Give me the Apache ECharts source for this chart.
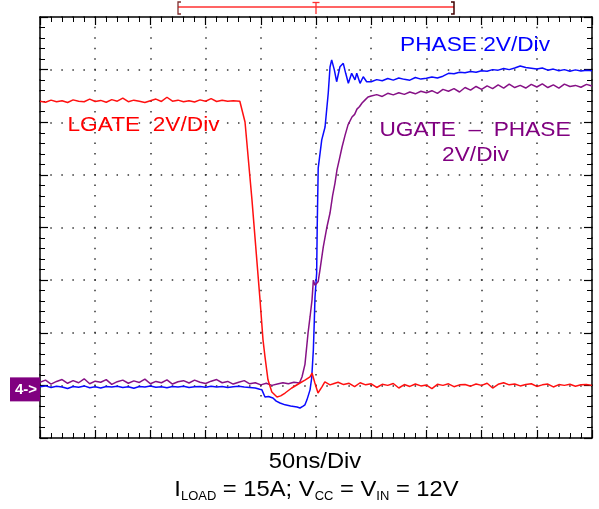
<!DOCTYPE html>
<html><head><meta charset="utf-8">
<script src="https://cdn.jsdelivr.net/npm/echarts@6/dist/echarts.min.js"></script>
<style>html,body{margin:0;padding:0;background:#fff}#c{width:599px;height:509px}</style>
</head><body><div id="c"></div>
<script>
// time in ns (50 ns/div), voltage in V (2 V/div), ground at 0 V
const timeRange = [0, 500];
const voltRange = [-2, 14];

const lgate = [
[0,10.80],[5,10.76],[10,10.84],[15,10.78],[20,10.82],[25,10.75],[30,10.85],[35,10.80],[40,10.78],[45,10.88],
[50,10.79],[55,10.83],[60,10.76],[65,10.86],[70,10.80],[75,10.92],[80,10.78],[85,10.84],[90,10.80],[95,10.75],
[100,10.82],[105,10.88],[110,10.79],[115,10.95],[120,10.80],[125,10.84],[130,10.78],[135,10.82],[140,10.77],[145,10.85],
[150,10.80],[155,10.90],[160,10.79],[165,10.84],[170,10.80],[175,10.82],[181,10.80],[182.7,10.85],[185.7,10.01],[192,7.05],
[199.3,3.25],[202,1.73],[203.8,1.08],[206.5,0.21],[210,-0.25],[214.7,-0.44],[218,-0.40],[222,-0.29],[228,-0.10],[235.5,0.09],
[240,0.20],[244.6,0.32],[246.4,0.47],[249,0.09],[251.8,-0.29],[255.4,-0.06],[258,0.13],[262.7,0.02],
[265,0.05],[270,0.12],[275,0.03],[280,0.08],[285,-0.05],[290,0.10],[295,0.02],[300,0.06],[305,-0.08],[310,0.04],
[315,0.00],[320,0.07],[325,-0.10],[330,0.03],[335,-0.04],[340,0.05],[345,-0.02],[350,0.01],[355,-0.12],[360,0.04],
[365,0.00],[370,0.06],[375,-0.05],[380,0.02],[385,0.03],[390,-0.03],[395,0.05],[400,0.00],[405,0.08],[410,-0.10],
[415,0.04],[420,0.10],[425,0.02],[430,0.05],[435,-0.02],[440,0.03],[445,0.06],[450,-0.04],[455,0.02],[460,0.05],
[465,-0.06],[470,0.03],[475,0.00],[480,0.04],[485,-0.03],[490,0.02],[495,0.03],[500,0.00]
];

const phase = [
[0,-0.05],[5,-0.02],[10,-0.08],[15,-0.03],[20,-0.06],[25,-0.12],[30,-0.04],[35,-0.07],[40,-0.02],[45,-0.09],
[50,-0.05],[55,-0.10],[60,-0.04],[65,-0.06],[70,-0.03],[75,-0.08],[80,-0.05],[85,-0.11],[90,-0.04],[95,-0.06],
[100,-0.02],[105,-0.07],[110,-0.05],[115,-0.09],[120,-0.04],[125,-0.06],[130,-0.03],[135,-0.08],[140,-0.05],[145,-0.04],
[150,-0.07],[155,-0.03],[160,-0.06],[165,-0.04],[170,-0.08],[175,-0.05],[180,-0.03],[185,-0.06],[190,-0.08],[195,-0.10],
[199,-0.15],[201,-0.17],[203.8,-0.44],[207,-0.42],[211,-0.48],[214,-0.60],[217.4,-0.67],[222,-0.74],[227,-0.78],[232.8,-0.82],
[235.5,-0.86],[238,-0.80],[240,-0.74],[241.8,-0.55],[244.6,-0.17],[246.1,0.28],[247.6,1.35],[248.5,2.49],[249.1,3.36],[250.6,4.27],
[251.1,6.02],[252,8.26],[255.2,9.33],[258.2,9.82],[261.1,11.11],[262.7,12.10],[264.2,12.37],[266.6,11.99],[268.7,11.54],[271.7,12.11],
[274.7,12.24],[276.9,11.86],[279.3,11.48],[282.3,11.86],[285.3,11.61],[286.9,11.86],[289.9,11.48],[292.8,11.73],[295.9,11.54],
[300,11.54],[305,11.62],[310,11.58],[315,11.66],[320,11.60],[325,11.68],[330,11.63],[335,11.60],[340,11.70],[345,11.64],
[350,11.67],[355,11.72],[360,11.68],[365,11.75],[370,11.86],[375,11.84],[380,11.90],[385,11.88],[390,11.93],[395,11.90],
[400,11.96],[405,11.94],[410,12.00],[415,11.98],[420,12.04],[425,12.00],[430,12.06],[435,12.14],[440,12.08],[445,12.05],
[450,12.02],[455,12.06],[460,11.98],[465,12.02],[470,11.96],[475,12.00],[480,11.94],[485,11.99],[490,11.95],[495,11.98],[500,11.96]
];

const ugatePhase = [
[0,0.12],[5,0.20],[10,0.05],[15,0.15],[20,0.22],[25,0.08],[30,0.18],[35,0.10],[40,0.25],[45,0.06],
[50,0.16],[55,0.12],[60,0.22],[65,0.04],[70,0.14],[75,0.20],[80,0.08],[85,0.17],[90,0.11],[95,0.24],
[100,0.06],[105,0.15],[110,0.10],[115,0.21],[120,0.05],[125,0.14],[130,0.18],[135,0.09],[140,0.20],[145,0.12],
[150,0.07],[155,0.16],[160,0.22],[165,0.10],[170,0.15],[175,0.05],[180,0.12],[185,0.18],[190,0.06],[195,0.10],
[200,0.02],[205,0.08],[210,0.00],[215,0.05],[220,0.10],[225,0.06],[230,0.12],[235,0.09],
[237.3,0.32],[240,0.80],[242.8,1.99],[244.6,2.60],[246.4,3.25],[247.6,4.00],[249.1,3.80],[250.5,3.85],[252,3.95],[253.6,4.39],
[256.6,5.26],[259.7,5.98],[262.7,6.55],[265,7.20],[267.2,7.69],[269,8.19],[271.3,8.62],[273.6,9.06],[276.3,9.50],[279,9.90],
[282.6,10.20],[285,10.30],[287.1,10.50],[289.5,10.60],[291.7,10.73],[294.5,10.85],[297.1,10.96],
[300,11.00],[305,11.05],[310,10.98],[315,11.10],[320,11.04],[325,11.12],[330,11.06],[335,11.15],[340,11.08],[345,11.18],
[350,11.12],[355,11.20],[360,11.10],[365,11.25],[370,11.18],[375,11.28],[380,11.15],[385,11.32],[390,11.22],[395,11.36],
[400,11.25],[405,11.38],[410,11.28],[415,11.42],[420,11.30],[425,11.45],[430,11.32],[435,11.40],[440,11.30],[445,11.44],
[450,11.34],[455,11.46],[460,11.32],[465,11.42],[470,11.30],[475,11.45],[480,11.36],[485,11.40],[490,11.33],[495,11.44],[500,11.38]
];

const labels = {
  lgate: 'LGATE  2V/Div',
  phase: 'PHASE 2V/Div',
  ugate1: 'UGATE  \u2013  PHASE',
  ugate2: '2V/Div',
  timebase: '50ns/Div',
  cond: '{a|I}{s|LOAD}{a| = 15A; V}{s|CC}{a| = V}{s|IN}{a| = 12V}',
  marker: '4->'
};
const bracket = {start: 125, trigger: 250, end: 375};

const RED = '#ff1010', BLUE = '#0a0aff', PURPLE = '#861186';
const FONT = '"Liberation Sans", Arial, sans-serif';

const chart = echarts.init(document.getElementById('c'), null, {renderer: 'canvas'});

function axisCommon(extra) {
  return Object.assign({
    type: 'value',
    axisLine: {show: true, onZero: false, lineStyle: {color: '#000', width: 1.5}},
    axisTick: {show: true, inside: true, length: 8, lineStyle: {color: '#000', width: 1.2}},
    minorTick: {show: true, splitNumber: 5, length: 5, lineStyle: {color: '#000', width: 1}},
    axisLabel: {show: false},
    splitLine: {show: false}
  }, extra);
}

chart.setOption({
  animation: false,
  backgroundColor: '#fff',
  grid: {left: 40, top: 17, width: 552, height: 421, containLabel: false},
  xAxis: [
    axisCommon({min: timeRange[0], max: timeRange[1], interval: 50, position: 'bottom',
      splitLine: {show: true, lineStyle: {color: '#333', width: 1.5, type: [1.5, 9.02], dashOffset: 0.75}}}),
    axisCommon({min: timeRange[0], max: timeRange[1], interval: 50, position: 'top'})
  ],
  yAxis: [
    axisCommon({min: voltRange[0], max: voltRange[1], interval: 2, position: 'left',
      splitLine: {show: true, lineStyle: {color: '#333', width: 1.5, type: [1.5, 9.54], dashOffset: 0.75}}}),
    axisCommon({min: voltRange[0], max: voltRange[1], interval: 2, position: 'right'})
  ],
  series: [
    {name: 'PHASE', type: 'line', data: phase, showSymbol: false, z: 3,
      lineStyle: {color: BLUE, width: 1.5}, itemStyle: {color: BLUE}},
    {name: 'UGATE-PHASE', type: 'line', data: ugatePhase, showSymbol: false, z: 4,
      lineStyle: {color: PURPLE, width: 1.5}, itemStyle: {color: PURPLE}},
    {name: 'LGATE', type: 'line', data: lgate, showSymbol: false, z: 5,
      lineStyle: {color: RED, width: 1.5}, itemStyle: {color: RED}}
  ]
});

const px = t => chart.convertToPixel({xAxisIndex: 0}, t);
const py = v => chart.convertToPixel({yAxisIndex: 0}, v);
const gnd = py(0);
const bx0 = px(bracket.start), bx1 = px(bracket.end), bxt = px(bracket.trigger);

function txt(text, x, y, color, size) {
  return {type: 'text', x: x, y: y, scaleX: 1.08, z: 100,
    style: {text: text, fill: color, font: size + 'px ' + FONT, align: 'center', verticalAlign: 'middle'}};
}

chart.setOption({
  graphic: [
    txt(labels.lgate, 143.5, 125, '#ff0000', 21),
    txt(labels.phase, 475, 45, '#0000ff', 21),
    txt(labels.ugate1, 475, 130, '#800080', 21),
    txt(labels.ugate2, 475.5, 155, '#800080', 21),
    txt(labels.timebase, 315, 462, '#000', 22),
    {type: 'text', x: 316.5, y: 490, scaleX: 1.08, z: 100,
      style: {text: labels.cond, align: 'center', verticalAlign: 'middle', fill: '#000',
        rich: {
          a: {fontSize: 22, fontFamily: FONT, fill: '#000', lineHeight: 26},
          s: {fontSize: 12, fontFamily: FONT, fill: '#000', lineHeight: 12, verticalAlign: 'bottom'}
        }}},
    // channel marker
    {type: 'rect', shape: {x: 10, y: gnd - 8, width: 30, height: 24}, style: {fill: '#800080'}, z: 100},
    {type: 'text', x: 26, y: gnd + 4, z: 101,
      style: {text: labels.marker, fill: '#fff', font: 'bold 15px ' + FONT, align: 'center', verticalAlign: 'middle'}},
    // top bracket
    {type: 'line', shape: {x1: bx0, y1: 7, x2: bx1, y2: 7}, style: {stroke: '#ff3030', lineWidth: 1.3}, z: 100},
    {type: 'polyline', shape: {points: [[bx0 + 3, 2], [bx0, 2], [bx0, 14], [bx0 + 3, 14]]}, style: {stroke: '#803030', lineWidth: 1.3, fill: null}, z: 100},
    {type: 'polyline', shape: {points: [[bx1 - 3, 2], [bx1, 2], [bx1, 14], [bx1 - 3, 14]]}, style: {stroke: '#400000', lineWidth: 1.5, fill: null}, z: 100},
    {type: 'line', shape: {x1: bxt - 3.5, y1: 2.5, x2: bxt + 3.5, y2: 2.5}, style: {stroke: '#ff3030', lineWidth: 1.3}, z: 100},
    {type: 'line', shape: {x1: bxt, y1: 2.5, x2: bxt, y2: 14}, style: {stroke: '#ff3030', lineWidth: 1.3}, z: 100}
  ]
});
</script>
</body></html>
